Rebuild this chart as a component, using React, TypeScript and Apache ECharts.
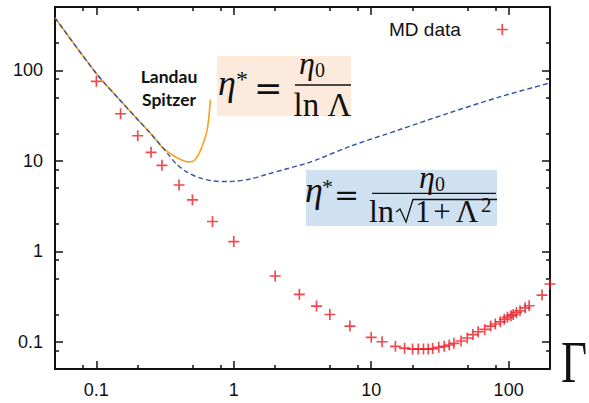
import React, { useEffect, useRef } from 'react';
import * as echarts from 'echarts';

// MD simulation data (Gamma, eta*)
const mdGamma = [0.1, 0.15, 0.2, 0.25, 0.3, 0.4, 0.5, 0.7, 1, 2, 3, 4, 5, 7, 10, 12, 15, 17.5, 20, 22, 24, 26, 28, 31, 34, 37, 40, 45, 50, 55, 60, 67, 74, 80, 87, 93, 98, 104, 108, 114, 121, 132, 141, 175, 200];
const mdEta = [75.5, 33.1, 18.9, 12.4, 8.9, 5.4, 3.7, 2.13, 1.28, 0.533, 0.334, 0.248, 0.2, 0.149, 0.112, 0.1, 0.089, 0.085, 0.083, 0.083, 0.083, 0.083, 0.084, 0.087, 0.089, 0.092, 0.096, 0.102, 0.11, 0.12, 0.129, 0.137, 0.149, 0.157, 0.166, 0.177, 0.186, 0.194, 0.2, 0.211, 0.22, 0.237, 0.25, 0.328, 0.435];

// Landau-Spitzer curve eta0 / ln(Lambda)
const lsGamma = [0.05, 0.1, 0.15, 0.2, 0.25, 0.29, 0.33, 0.36, 0.4, 0.44, 0.465, 0.5, 0.534, 0.57, 0.6, 0.633, 0.655, 0.676];
const lsEta = [380, 92, 46, 28.5, 19.8, 15.0, 12.6, 11.5, 10.5, 9.9, 9.7, 9.8, 10.7, 12.8, 15.7, 20.3, 28, 47.4];

// Regularised curve eta0 / ln sqrt(1 + Lambda^2)
const regGamma = [0.05, 0.1, 0.15, 0.2, 0.25, 0.29, 0.33, 0.38, 0.45, 0.56, 0.7, 0.88, 1.0, 1.3, 1.7, 2.4, 3.4, 4.1, 7, 16, 37, 86, 200];
const regEta = [380, 92, 46, 28.5, 19.8, 15.2, 12.0, 9.3, 7.6, 6.5, 6.0, 5.9, 5.92, 6.25, 7.0, 8.1, 9.4, 10.4, 14.4, 22, 33.8, 50.7, 72.5];

const majorTicks = [0.1, 1, 10, 100];
const majorTickLabels = ['0.1', '1', '10', '100'];
const minorTicksX = [0.08, 0.2, 0.5, 0.8, 2, 5, 8, 20, 50, 80];
const minorTicksY = [0.08, 0.2, 0.5, 0.8, 2, 5, 8, 20, 50, 80, 200];

const X_MIN = 0.05, X_MAX = 200, Y_MIN = 0.05, Y_MAX = 500;

const INK = '#111';

function labelFor(v: number): string {
  let best = 0;
  for (let i = 0; i < majorTicks.length; i++) {
    if (Math.abs(Math.log10(majorTicks[i]) - Math.log10(v)) < Math.abs(Math.log10(majorTicks[best]) - Math.log10(v))) best = i;
  }
  return majorTickLabels[best];
}

function buildAxes(dim: 'x' | 'y') {
  const min = dim === 'x' ? X_MIN : Y_MIN;
  const max = dim === 'x' ? X_MAX : Y_MAX;
  const minor = dim === 'x' ? minorTicksX : minorTicksY;
  const posA = dim === 'x' ? 'bottom' : 'left';
  const posB = dim === 'x' ? 'top' : 'right';
  const base = {
    type: 'log', logBase: 10, min, max,
    splitLine: { show: false }, minorTick: { show: false }, minorSplitLine: { show: false },
  };
  const line = { show: true, onZero: false, lineStyle: { color: INK, width: 2 } };
  const noLine = { show: false };
  const major = { show: true, inside: true, length: 8, customValues: majorTicks, lineStyle: { color: INK, width: 1.5 } };
  const minorT = { show: true, inside: true, length: 4, customValues: minor, lineStyle: { color: INK, width: 1.5 } };
  return [
    {
      ...base, position: posA, axisLine: line, axisTick: major,
      axisLabel: {
        show: true, customValues: majorTicks, formatter: (v: number) => labelFor(v),
        margin: 12, fontSize: 18, fontFamily: 'Liberation Sans', color: INK,
      },
    },
    { ...base, position: posA, axisLine: noLine, axisTick: minorT, axisLabel: { show: false } },
    { ...base, position: posB, axisLine: line, axisTick: major, axisLabel: { show: false } },
    { ...base, position: posB, axisLine: noLine, axisTick: minorT, axisLabel: { show: false } },
  ];
}

const PLUS = 'path://M4.25,0H5.75V4.25H10V5.75H5.75V10H4.25V5.75H0V4.25H4.25Z';

const serif = '"Liberation Serif", "DejaVu Serif", serif';

function txt(x: number, y: number, text: string, font: string, align = 'left', extra: any = {}) {
  return {
    type: 'text', x, y, z: 10, ...extra,
    style: { text, font, fill: INK, align, verticalAlign: 'middle' },
  };
}

export default function App() {
  const ref = useRef<HTMLDivElement>(null);
  useEffect(() => {
    if (!ref.current) return;
    const chart = echarts.init(ref.current, undefined, { renderer: 'svg' });
    const option: any = {
      animation: false,
      backgroundColor: '#ffffff',
      grid: { left: 55, right: 39, top: 7, bottom: 34, outerBoundsMode: 'none' },
      xAxis: buildAxes('x'),
      yAxis: buildAxes('y'),
      legend: {
        data: ['MD data'],
        left: 384, top: 15,
        align: 'right',
        icon: PLUS,
        itemWidth: 11, itemHeight: 11,
        textStyle: { fontSize: 19, fontFamily: 'Liberation Sans', color: INK, padding: [0, 31, 0, 0] },
      },
      series: [
        {
          name: 'Landau-Spitzer', type: 'line', xAxisIndex: 0, yAxisIndex: 0,
          data: lsGamma.map((g, i) => [g, lsEta[i]]),
          showSymbol: false, smooth: 0.3, z: 2,
          lineStyle: { color: '#f5a21e', width: 1.6 },
        },
        {
          name: 'Regularised', type: 'line', xAxisIndex: 0, yAxisIndex: 0,
          data: regGamma.map((g, i) => [g, regEta[i]]),
          showSymbol: false, smooth: 0.3, z: 3,
          lineStyle: { color: '#3653a6', width: 1.4, type: [5, 3] },
        },
        {
          name: 'MD data', type: 'scatter', xAxisIndex: 0, yAxisIndex: 0,
          data: mdGamma.map((g, i) => [g, mdEta[i]]),
          symbol: PLUS, symbolSize: 11, clip: false, z: 4,
          itemStyle: { color: '#ec1a22' },
        },
      ],
      graphic: [
        // Landau / Spitzer label
        txt(169, 76, 'Landau', 'bold 17.5px Lato, "Open Sans", sans-serif', 'center'),
        txt(169, 99, 'Spitzer', 'bold 17.5px Lato, "Open Sans", sans-serif', 'center'),
        // orange formula box
        { type: 'rect', z: 1, shape: { x: 217, y: 56, width: 134, height: 60 }, style: { fill: '#fcebdc' } },
        txt(218, 83, 'η', 'italic 36px ' + serif),
        txt(236, 79, '*', '24px ' + serif),
        txt(254, 87.5, '=', '34px "DejaVu Serif", serif'),
        txt(299, 63, 'η', 'italic 32px ' + serif),
        txt(315, 70, '0', '20px ' + serif),
        { type: 'line', z: 10, shape: { x1: 295, y1: 85, x2: 351, y2: 85 }, style: { stroke: INK, lineWidth: 1.3 } },
        txt(322.5, 105, 'ln Λ', '33px ' + serif, 'center'),
        // blue formula box
        { type: 'rect', z: 1, shape: { x: 306, y: 170, width: 191, height: 56 }, style: { fill: '#cfe0f1' } },
        txt(305, 190, 'η', 'italic 36px ' + serif),
        txt(322, 186, '*', '22px ' + serif),
        txt(334, 194, '=', '30px "DejaVu Serif", serif'),
        txt(419, 177, 'η', 'italic 32px ' + serif),
        txt(435, 184, '0', '20px ' + serif),
        { type: 'line', z: 10, shape: { x1: 372, y1: 193.3, x2: 496, y2: 193.3 }, style: { stroke: INK, lineWidth: 1.3 } },
        txt(369, 211, 'ln', '32px ' + serif),
        { type: 'polyline', z: 10, shape: { points: [[396, 212], [400, 209], [406, 222], [413, 199.5], [497, 199.5]] }, style: { stroke: INK, lineWidth: 1.3, fill: 'none' } },
        txt(415, 211, '1', '31px ' + serif),
        txt(442, 211, '+', '31px ' + serif, 'center'),
        txt(467, 211, 'Λ', '31px ' + serif, 'center'),
        txt(481, 205, '2', '21px ' + serif),
        // Gamma axis symbol
        txt(561, 362, 'Γ', '60px ' + serif, 'left', { scaleX: 0.75, originX: 0, originY: 0 }),
      ],
    };
    chart.setOption(option);
    return () => chart.dispose();
  }, []);
  return <div ref={ref} style={{ width: 589, height: 403, position: 'absolute', left: 0, top: 0 }} />;
}
